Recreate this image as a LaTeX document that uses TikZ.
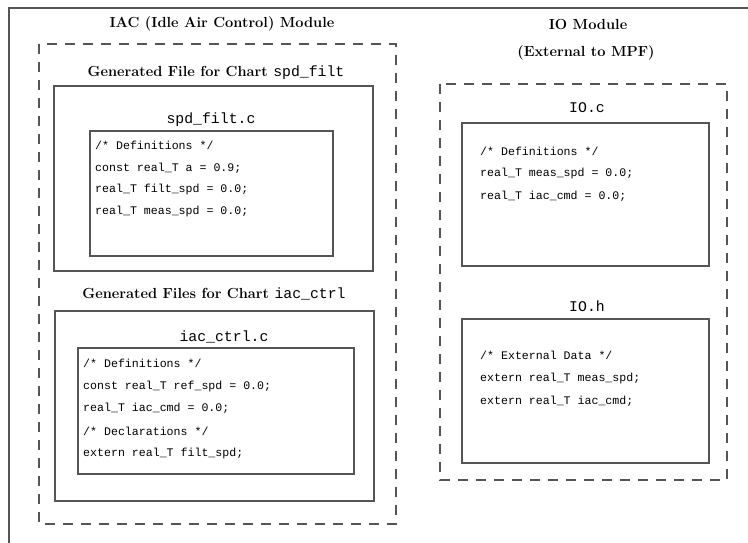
\documentclass[tikz,border=0pt]{standalone}
\usepackage{fontspec}
\setmonofont{Liberation Mono}
\definecolor{rule}{HTML}{555555}
\newcommand{\chartname}[1]{{\mdseries\ttfamily\fontsize{14.8}{17}\selectfont #1}}
\tikzset{
  filebox/.style={draw=rule, line width=1.8pt},
  groupbox/.style={draw=rule, line width=1.8pt, dash pattern=on 10pt off 8pt},
  heading/.style={font=\bfseries\fontsize{14.6}{17}\selectfont},
  fname/.style={font=\ttfamily\fontsize{14.8}{17}\selectfont},
  codeline/.style={anchor=west, inner sep=0pt, font=\ttfamily\fontsize{11.6}{13}\selectfont}
}

\begin{document}
\begin{tikzpicture}[x=1pt,y=-1pt]
\useasboundingbox (0,0) rectangle (748,543);
\draw[line width=1.8pt, rule] (9,543) -- (9,8) -- (748,8);
\node[heading] (iacTitle) at (222,24) {IAC (Idle Air Control) Module};
\draw[groupbox] (39,44) rectangle (396,524);
\node[heading] (spdHead) at (216,73) {Generated File for Chart \chartname{spd\_filt}};
\draw[filebox] (54,86) rectangle (373,271);
\node[fname] (spdFile) at (211,120) {spd\_filt.c};
\draw[filebox] (90,131) rectangle (333,256);
\node[codeline] (spdA) at (95,145) {/* Definitions */};
\node[codeline] (spdB) at (95,168) {const real\_T a = 0.9;};
\node[codeline] (spdC) at (95,190) {real\_T filt\_spd = 0.0;};
\node[codeline] (spdD) at (95,212) {real\_T meas\_spd = 0.0;};
\node[heading] (iacHead) at (214,294) {Generated Files for Chart \chartname{iac\_ctrl}};
\draw[filebox] (55,311) rectangle (374,501);
\node[fname] (iacFile) at (224,337) {iac\_ctrl.c};
\draw[filebox] (78,348) rectangle (354,474);
\node[codeline] (iacA) at (83,363) {/* Definitions */};
\node[codeline] (iacB) at (83,386) {const real\_T ref\_spd = 0.0;};
\node[codeline] (iacC) at (83,408) {real\_T iac\_cmd = 0.0;};
\node[codeline] (iacD) at (83,431) {/* Declarations */};
\node[codeline] (iacE) at (83,453) {extern real\_T filt\_spd;};
\node[heading] (ioTitle) at (588,24) {IO Module};
\node[heading] (ioSub) at (586,53) {(External to MPF)};
\draw[groupbox] (440,84) rectangle (727,480);
\node[fname] (ioCFile) at (587,108) {IO.c};
\draw[filebox] (462,123) rectangle (709,266);
\node[codeline] (ioCA) at (480,151) {/* Definitions */};
\node[codeline] (ioCB) at (480,174) {real\_T meas\_spd = 0.0;};
\node[codeline] (ioCC) at (480,196) {real\_T iac\_cmd = 0.0;};
\node[fname] (ioHFile) at (587,306) {IO.h};
\draw[filebox] (462,319) rectangle (709,463);
\node[codeline] (ioHA) at (480,355) {/* External Data */};
\node[codeline] (ioHB) at (480,378) {extern real\_T meas\_spd;};
\node[codeline] (ioHC) at (480,401) {extern real\_T iac\_cmd;};
\end{tikzpicture}
\end{document}
